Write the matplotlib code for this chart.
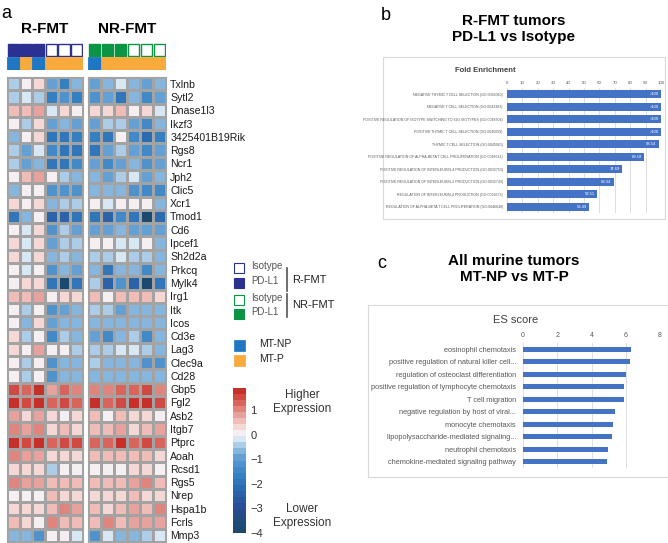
import numpy as np
import matplotlib
matplotlib.use('Agg')
import matplotlib.pyplot as plt
from matplotlib.colors import LinearSegmentedColormap, Normalize
from matplotlib.patches import Rectangle
import matplotlib.cm as cm

plt.rcParams['font.family'] = ['Liberation Sans', 'DejaVu Sans']

# ---------------- data ----------------
genes = ['Txlnb', 'Sytl2', 'Dnase1l3', 'Ikzf3', '3425401B19Rik', 'Rgs8', 'Ncr1', 'Jph2',
         'Clic5', 'Xcr1', 'Tmod1', 'Cd6', 'Ipcef1', 'Sh2d2a', 'Prkcq', 'Mylk4', 'Irg1',
         'Itk', 'Icos', 'Cd3e', 'Lag3', 'Clec9a', 'Cd28', 'Gbp5', 'Fgl2', 'Asb2', 'Itgb7',
         'Ptprc', 'Aoah', 'Rcsd1', 'Rgs5', 'Nrep', 'Hspa1b', 'Fcrls', 'Mmp3']

r_fmt_expr = [
    [-0.4, 0.0, 0.3, -1.0, -1.7, -0.8],
    [-0.4, -0.3, -0.4, -1.6, -1.2, -1.6],
    [0.5, 0.5, 0.8, -0.3, 0.2, 0.0],
    [0.0, -0.5, 0.2, -1.0, -0.8, -1.0],
    [-0.8, 0.0, 0.2, -1.8, -2.0, -1.6],
    [-0.4, -1.0, -0.3, -1.5, -1.8, -2.0],
    [-0.4, -0.9, -0.7, -1.8, -1.8, -1.5],
    [0.0, 0.5, 0.8, 0.0, -0.4, -0.7],
    [-0.7, 0.0, 0.0, -1.2, -1.2, -1.1],
    [0.2, 0.0, 0.2, -0.7, -0.4, -0.4],
    [-1.8, -0.8, 0.0, -2.5, -2.5, -2.0],
    [0.0, -0.3, 0.2, -1.2, -0.4, -1.0],
    [0.2, -0.3, 0.3, -1.0, -0.4, -0.4],
    [0.2, -0.2, 0.2, -0.8, -0.4, -0.8],
    [0.0, -0.2, 0.0, -1.2, -0.8, -1.0],
    [0.0, 0.3, 0.4, -2.0, -3.8, -2.0],
    [0.5, 0.5, 0.8, 0.0, 0.3, 0.2],
    [0.0, -0.4, 0.0, -1.2, -0.9, -0.8],
    [0.0, -0.8, 0.2, -1.0, -0.8, -0.8],
    [0.2, -0.4, 0.0, -1.3, -0.5, -0.8],
    [0.3, 0.0, 0.8, 0.0, 0.0, -0.4],
    [0.0, -0.4, 0.0, -1.2, -0.8, -0.8],
    [0.0, -0.4, 0.0, -1.2, -0.8, -0.8],
    [1.5, 1.4, 1.8, 0.8, 1.2, 1.0],
    [1.8, 1.5, 1.8, 1.2, 1.5, 1.4],
    [0.7, 0.3, 0.7, 0.3, 0.0, 0.3],
    [1.0, 0.7, 1.0, 0.3, 0.6, 0.3],
    [1.9, 1.5, 1.9, 1.2, 1.5, 1.5],
    [1.0, 0.7, 0.9, 0.2, 0.3, 0.3],
    [0.3, 0.2, 0.3, -0.5, 0.0, 0.0],
    [1.0, 0.8, 0.9, 0.6, 0.6, 0.6],
    [0.0, 0.0, 0.0, 0.6, 0.3, 0.2],
    [0.3, 0.3, 0.2, 0.6, 1.0, 0.9],
    [0.6, 0.3, 0.0, 1.0, 0.6, 0.6],
    [-0.7, -0.6, -1.2, 0.0, 0.0, -0.3],
]

nr_fmt_expr = [
    [-1.0, -0.7, -0.3, -0.8, -1.0, -0.6],
    [-1.2, -1.0, -2.0, -0.8, -1.4, -1.0],
    [0.3, 0.2, 0.5, 0.0, 0.2, -0.3],
    [-1.0, -0.4, -0.4, -0.9, -1.5, -0.8],
    [-1.6, -1.8, 0.0, -1.5, -2.2, -1.6],
    [-1.8, -1.0, -0.5, -1.0, -1.3, -1.0],
    [-1.0, -1.5, -1.0, -0.7, -1.2, -1.0],
    [-0.7, -1.0, -0.4, -0.3, -1.0, -0.8],
    [-0.8, -0.6, -0.8, -1.1, -1.5, -1.5],
    [0.0, -0.3, 0.0, 0.0, 0.0, -0.7],
    [-1.8, -2.5, -1.5, -1.8, -4.0, -2.2],
    [-0.9, -0.9, -0.8, -1.0, -1.0, -0.9],
    [0.0, 0.0, -0.2, -0.3, 0.0, -0.7],
    [-0.4, -0.4, -0.2, -0.4, -0.5, -0.8],
    [-0.7, -2.0, -0.8, -0.8, -1.5, -0.8],
    [-0.5, -2.5, -1.2, -2.5, -3.8, -2.0],
    [0.5, 0.0, 0.5, 0.5, 0.6, 0.2],
    [-0.5, -0.4, -0.9, -0.8, -0.8, -0.8],
    [-0.8, -0.8, -0.8, -0.8, -0.8, -0.8],
    [-1.0, -1.3, -0.8, -0.4, -1.3, -0.8],
    [-0.5, -0.5, -0.1, -0.3, -0.4, -0.8],
    [-0.4, -0.6, -0.8, -0.8, -1.2, -1.2],
    [-0.7, -0.7, -0.8, -0.8, -0.7, -0.7],
    [1.0, 1.1, 1.4, 1.4, 1.5, 1.0],
    [1.9, 1.4, 1.6, 1.8, 1.8, 1.5],
    [0.6, 0.0, 0.6, 0.3, 0.3, 0.0],
    [0.6, 0.6, 0.8, 0.3, 0.6, 0.8],
    [1.3, 1.4, 1.8, 1.4, 1.5, 1.4],
    [0.6, 0.6, 0.6, 0.6, 0.6, 0.3],
    [0.0, 0.0, 0.0, 0.2, 0.2, 0.0],
    [0.6, 0.6, 0.6, 0.9, 1.0, 0.6],
    [0.2, 0.2, 0.3, 0.6, 0.3, 0.2],
    [0.6, 0.3, 0.6, 0.9, 0.6, 1.0],
    [0.6, 1.0, 0.6, 0.9, 0.9, 0.9],
    [-1.2, -0.3, -0.6, -0.6, -0.5, -0.3],
]

treat_r = ['PD-L1', 'PD-L1', 'PD-L1', 'Isotype', 'Isotype', 'Isotype']
mt_r = ['MT-NP', 'MT-P', 'MT-NP', 'MT-P', 'MT-P', 'MT-P']
treat_nr = ['PD-L1', 'PD-L1', 'PD-L1', 'Isotype', 'Isotype', 'Isotype']
mt_nr = ['MT-NP', 'MT-P', 'MT-P', 'MT-P', 'MT-P', 'MT-P']

go_terms = ['NEGATIVE THYMIC T CELL SELECTION (GO:0045060)',
            'NEGATIVE T CELL SELECTION (GO:0043383)',
            'POSITIVE REGULATION OF ISOTYPE SWITCHING TO IGG ISOTYPES (GO:0048304)',
            'POSITIVE THYMIC T CELL SELECTION (GO:0045059)',
            'THYMIC T CELL SELECTION (GO:0045061)',
            'POSITIVE REGULATION OF ALPHA-BETA T CELL PROLIFERATION (GO:0046641)',
            'POSITIVE REGULATION OF INTERLEUKIN-4 PRODUCTION (GO:0032753)',
            'POSITIVE REGULATION OF INTERLEUKIN-2 PRODUCTION (GO:0032743)',
            'REGULATION OF INTERLEUKIN-4 PRODUCTION (GO:0032673)',
            'REGULATION OF ALPHA-BETA T CELL PROLIFERATION (GO:0046640)']
fold_enrichment = [100, 100, 100, 100, 98.54, 89.18, 74.69, 69.34, 58.51, 53.49]
fold_labels = ['>100', '>100', '>100', '>100', '98.54', '89.18', '74.69', '69.34', '58.51', '53.49']

es_terms = ['eosinophil chemotaxis', 'positive regulation of natural killer cell...',
            'regulation of osteoclast differentiation', 'positive regulation of lymphocyte chemotaxis',
            'T cell migration', 'negative regulation by host of viral...', 'monocyte chemotaxis',
            'lipopolysaccharide-mediated signaling...', 'neutrophil chemotaxis',
            'chemokine-mediated signaling pathway']
es_score = [6.33, 6.22, 6.04, 5.92, 5.88, 5.36, 5.26, 5.18, 4.97, 4.91]

# ---------------- style ----------------
W, H = 668, 543
navy = '#2b3190'
green = '#0b9444'
mt_np_col = '#1f77c4'
mt_p_col = '#f9aa3c'
bar_blue = '#4472c4'
grid_gray = '#d9d9d9'

stops = [(-4, '#1b4a6e'), (-3, '#2a4d96'), (-2.2, '#2b6cb0'), (-1.6, '#3784c4'),
         (-1.0, '#5a9ad0'), (-0.5, '#9cc3e4'), (-0.2, '#cfe1f2'), (0, '#f5f8fc'),
         (0.3, '#f6dedd'), (0.7, '#eeb3af'), (1.0, '#e49590'), (1.4, '#d8625a'),
         (1.9, '#c7302a')]
vmin, vmax = -4, 1.9
cmap = LinearSegmentedColormap.from_list(
    'expr', [((v - vmin) / (vmax - vmin), c) for v, c in stops], N=24)
norm = Normalize(vmin=vmin, vmax=vmax)


def box(x0, y0, x1, y1):
    return [x0 / W, 1 - y1 / H, (x1 - x0) / W, (y1 - y0) / H]


fig = plt.figure(figsize=(W / 100, H / 100), dpi=100)

# ---------------- panel a: heatmap ----------------
blocks = [(7, 83, r_fmt_expr, treat_r, mt_r, navy, 'R-FMT'),
          (88, 166, nr_fmt_expr, treat_nr, mt_nr, green, 'NR-FMT')]
for i, (x0, x1, vals, treat, mt, tcol, name) in enumerate(blocks):
    ax = fig.add_axes(box(x0, 77, x1, 542))
    ax.pcolormesh(np.array(vals), cmap=cmap, norm=norm,
                  edgecolors='#a3a3a3', linewidth=0.9)
    ax.set_xlim(0, 6)
    ax.set_ylim(len(genes), 0)
    ax.set_xticks([])
    for s in ax.spines.values():
        s.set_color('#a3a3a3')
    if i == 1:
        ax.yaxis.tick_right()
        ax.set_yticks(np.arange(len(genes)) + 0.5)
        ax.set_yticklabels(genes, fontsize=7.6, color='#1a1a1a')
        ax.tick_params(axis='y', length=0, pad=3)
    else:
        ax.set_yticks([])

    # annotation rows
    an = fig.add_axes(box(x0, 43, x1, 70))
    for j in range(6):
        fc = tcol if treat[j] == 'PD-L1' else 'white'
        an.add_patch(Rectangle((j + 0.05, 0.05), 0.9, 0.9, facecolor=fc,
                               edgecolor=tcol, linewidth=1.0))
        mc = mt_np_col if mt[j] == 'MT-NP' else mt_p_col
        an.add_patch(Rectangle((j, 1), 1, 1, facecolor=mc,
                               edgecolor=mc, linewidth=0.6))
    an.set_xlim(0, 6)
    an.set_ylim(2, 0)
    an.axis('off')
    an.text(3, -0.55, name, ha='center', va='bottom', fontsize=11,
            fontweight='bold', transform=an.transData)

# colorbar
cax = fig.add_axes(box(233, 388, 246, 533))
cb = fig.colorbar(cm.ScalarMappable(norm=norm, cmap=cmap), cax=cax)
cb.outline.set_visible(False)
cb.set_ticks([-4, -3, -2, -1, 0, 1])
cb.ax.tick_params(length=0, pad=3, labelsize=8, labelcolor='#333333')

# ---------------- overlay for labels / legend ----------------
ov = fig.add_axes([0, 0, 1, 1])
ov.set_xlim(0, W)
ov.set_ylim(H, 0)
ov.axis('off')

ov.text(1, 14, 'a', fontsize=13, va='center')
ov.text(381, 16, 'b', fontsize=13, va='center')
ov.text(377, 264, 'c', fontsize=13, va='center')

# legend for treatment groups
leg_items = [(268, 'white', navy, 'Isotype'), (283, navy, navy, 'PD-L1'),
             (300, 'white', green, 'Isotype'), (314, green, green, 'PD-L1')]
for y, fc, ec, lab in leg_items:
    ov.add_patch(Rectangle((234, y - 5.5), 10, 10, facecolor=fc, edgecolor=ec, lw=0.8))
    ov.text(251, y - 2, lab, fontsize=7, color='#555555', va='center')
ov.plot([287, 287], [268, 291], color='#555555', lw=1.2)
ov.plot([287, 287], [294, 317], color='#555555', lw=1.2)
ov.text(292, 280, 'R-FMT', fontsize=8, va='center', color='#222222')
ov.text(292, 305, 'NR-FMT', fontsize=8, va='center', color='#222222')

for y, fc, lab in [(345, mt_np_col, 'MT-NP'), (360, mt_p_col, 'MT-P')]:
    ov.add_patch(Rectangle((234, y - 5.5), 11, 11, facecolor=fc, edgecolor=fc, lw=0.5))
    ov.text(259, y - 1, lab, fontsize=7.5, va='center', color='#222222')

ov.text(302, 402, 'Higher\nExpression', fontsize=8.5, ha='center', va='center',
        color='#333333', linespacing=1.3)
ov.text(302, 516, 'Lower\nExpression', fontsize=8.5, ha='center', va='center',
        color='#333333', linespacing=1.3)

# titles b and c
ov.text(514, 29, 'R-FMT tumors\nPD-L1 vs Isotype', fontsize=11, fontweight='bold',
        ha='center', va='center', linespacing=1.2)
ov.text(514, 269, 'All murine tumors\nMT-NP vs MT-P', fontsize=11, fontweight='bold',
        ha='center', va='center', linespacing=1.2)

# frames
ov.add_patch(Rectangle((383, 57), 282, 162, facecolor='none', edgecolor=grid_gray, lw=0.8))
ov.add_patch(Rectangle((368, 305), 305, 172, facecolor='none', edgecolor=grid_gray, lw=0.8))
ov.text(485, 70, 'Fold Enrichment', fontsize=5.5, fontweight='bold', color='#404040',
        ha='center', va='center')
ov.text(516, 320, 'ES score', fontsize=8, color='#404040', ha='center', va='center')

# ---------------- panel b ----------------
axb = fig.add_axes(box(507, 88, 661, 213))
yb = np.arange(len(go_terms))
axb.barh(yb, fold_enrichment, height=0.65, color=bar_blue, zorder=2)
axb.set_xlim(0, 100)
axb.set_ylim(len(go_terms) - 0.5, -0.5)
axb.set_xticks(np.arange(0, 101, 10))
axb.xaxis.tick_top()
axb.grid(axis='x', color=grid_gray, lw=0.6, zorder=0)
axb.tick_params(axis='x', length=0, labelsize=3.2, labelcolor='#595959', pad=2)
axb.set_yticks(yb)
axb.set_yticklabels(go_terms, fontsize=2.6, color='#595959')
axb.tick_params(axis='y', length=0, pad=3)
for s in axb.spines.values():
    s.set_visible(False)
for y, v, lab in zip(yb, fold_enrichment, fold_labels):
    axb.text(v - 1.5, y, lab, ha='right', va='center', color='white', fontsize=3)

# ---------------- panel c ----------------
axc = fig.add_axes(box(523, 343, 660, 468))
yc = np.arange(len(es_terms))
axc.barh(yc, es_score, height=0.38, color=bar_blue, zorder=2)
axc.set_xlim(0, 8)
axc.set_ylim(len(es_terms) - 0.5, -0.5)
axc.set_xticks([0, 2, 4, 6, 8])
axc.xaxis.tick_top()
axc.grid(axis='x', color=grid_gray, lw=0.6, zorder=0)
axc.tick_params(axis='x', length=0, labelsize=5, labelcolor='#595959', pad=3)
axc.set_yticks(yc)
axc.set_yticklabels(es_terms, fontsize=5.3, color='#595959')
axc.tick_params(axis='y', length=0, pad=5)
for s in axc.spines.values():
    s.set_visible(False)

fig.savefig('out.png', dpi=100)
